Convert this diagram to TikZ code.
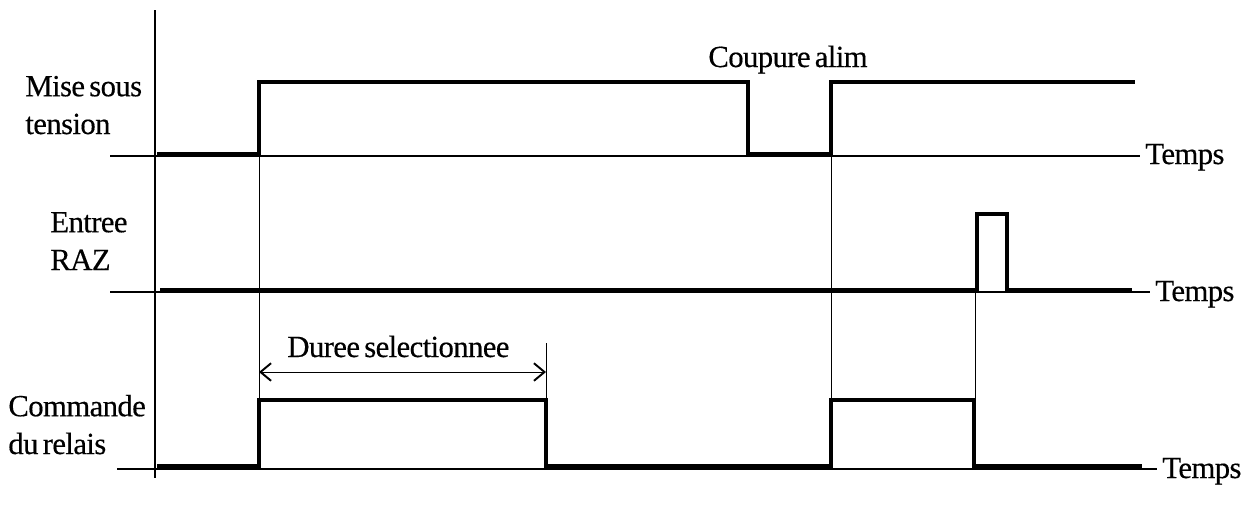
\documentclass[tikz,border=0pt]{standalone}
\usepackage{fontspec}
\setmainfont{Liberation Serif}[LetterSpace=-2,WordSpace=0.6,FakeBold=0.4]
\usepackage{tikz}
\usetikzlibrary{arrows.meta}

\tikzset{
  signal/.style={line width=2.8pt, line join=miter},
  baseline/.style={line width=1.1pt},
  guide/.style={line width=0.5pt},
  lbl/.style={font=\fontsize{17.5}{21.5}\selectfont, inner sep=0pt, align=left}
}

\begin{document}
\begin{tikzpicture}[x=0.02cm, y=-0.02cm]
                \useasboundingbox (0,0) rectangle (1250,505);
                % axis
                \draw[baseline] (155,10) -- (155,478);
                % Mise sous tension
                \draw[baseline] (110,156) -- (1140,156);
                \draw[signal] (157,154) -- (259,154) -- (259,82) -- (748,82) -- (748,154) -- (831,154) -- (831,82) -- (1135,82);
                \node[lbl, anchor=base west] (mise) at (25,134) {Mise sous\\tension};
                \node[lbl, anchor=base west] (temps1) at (1145,164) {Temps};
                \node[lbl, anchor=base west] (coupure) at (708,67) {Coupure alim};
                % Entree RAZ
                \draw[baseline] (110,292) -- (1150,292);
                \draw[signal] (160,290) -- (977,290) -- (977,214) -- (1007,214) -- (1007,290) -- (1132,290);
                \node[lbl, anchor=base west] (raz) at (50,270) {Entree\\RAZ};
                \node[lbl, anchor=base west] (temps2) at (1155,301) {Temps};
                % Commande du relais
                \draw[baseline] (117,469) -- (1157,469);
                \draw[signal] (157,466) -- (259,466) -- (259,400) -- (546,400) -- (546,466) -- (831,466) -- (831,400) -- (974,400) -- (974,466) -- (1142,466);
                \node[lbl, anchor=base west] (cmd) at (8,454) {Commande\\du relais};
                \node[lbl, anchor=base west] (temps3) at (1162,478) {Temps};
                % guides
                \draw[guide] (259,156) -- (259,400);
                \draw[guide] (831,156) -- (831,400);
                \draw[guide] (975,292) -- (975,400);
                \draw[guide] (546,343) -- (546,400);
                % duree
                \coordinate (da) at (259,372);
                \coordinate (db) at (546,372);
                \draw[guide, {Straight Barb[length=6pt,width=10pt,line width=1.1pt]}-{Straight Barb[length=6pt,width=10pt,line width=1.1pt]}] (da) -- (db);
                \node[lbl, anchor=base west] (duree) at (287,357) {Duree selectionnee};
            \end{tikzpicture}
\end{document}
